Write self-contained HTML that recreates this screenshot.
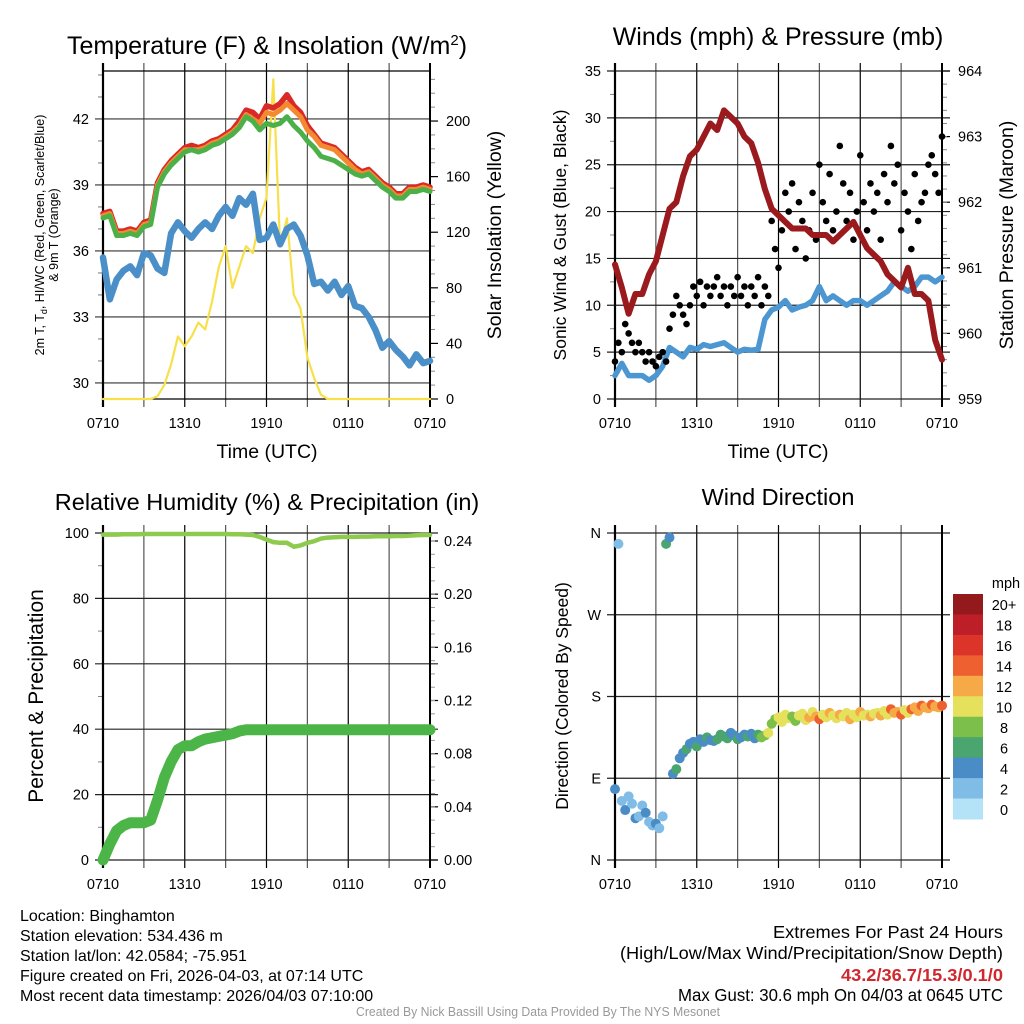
<!DOCTYPE html>
<html><head><meta charset="utf-8"><style>
html,body{margin:0;padding:0;background:#fff;}
svg{display:block;font-family:"Liberation Sans",sans-serif;}
</style></head><body>
<svg id="fig" width="1024" height="1024" viewBox="0 0 1024 1024" xmlns="http://www.w3.org/2000/svg">
<g id="layer"></g>
<g font-size="16" fill="#000">
<text x="20" y="921">Location: Binghamton</text>
<text x="20" y="941">Station elevation: 534.436 m</text>
<text x="20" y="961">Station lat/lon: 42.0584; -75.951</text>
<text x="20" y="981">Figure created on Fri, 2026-04-03, at 07:14 UTC</text>
<text x="20" y="1001">Most recent data timestamp: 2026/04/03 07:10:00</text>
</g>
<g font-size="17.5">
<text x="773" y="938" textLength="230" lengthAdjust="spacingAndGlyphs">Extremes For Past 24 Hours</text>
<text x="620" y="959" textLength="383" lengthAdjust="spacingAndGlyphs">(High/Low/Max Wind/Precipitation/Snow Depth)</text>
<text x="841" y="981" fill="#d0282e" font-weight="bold" textLength="162" lengthAdjust="spacingAndGlyphs">43.2/36.7/15.3/0.1/0</text>
<text x="678" y="1001" textLength="325" lengthAdjust="spacingAndGlyphs">Max Gust: 30.6 mph On 04/03 at 0645 UTC</text>
</g>
<text x="356" y="1016" font-size="13" fill="#999" textLength="364" lengthAdjust="spacingAndGlyphs">Created By Nick Bassill Using Data Provided By The NYS Mesonet</text>
</svg>
<script>
// ---- data (half-hourly, 0710 -> 0710) ----
const timeLabels = ["0710","1310","1910","0110","0710"];
const tempRed = [37.7,37.8,36.9,36.9,37.0,36.9,37.3,37.4,39.1,39.7,40.1,40.4,40.7,40.8,40.7,40.8,41.0,41.1,41.3,41.5,41.9,42.4,42.3,42.0,42.6,42.5,42.7,43.1,42.6,42.3,41.7,41.3,40.9,40.8,40.7,40.4,40.1,39.8,39.6,39.7,39.4,39.1,38.9,38.6,38.6,38.9,38.9,39.0,38.9];
const tempOrange = [37.6,37.7,36.8,36.8,36.9,36.8,37.2,37.3,39.0,39.6,40.0,40.3,40.6,40.6,40.6,40.7,40.9,41.0,41.2,41.4,41.7,42.2,42.0,41.8,42.3,42.2,42.4,42.7,42.4,42.1,41.5,41.2,40.8,40.7,40.6,40.3,40.0,39.7,39.5,39.6,39.3,39.0,38.8,38.5,38.5,38.8,38.8,38.9,38.8];
const tempGreen = [37.5,37.6,36.7,36.7,36.8,36.7,37.1,37.2,38.9,39.5,39.9,40.2,40.5,40.6,40.5,40.6,40.8,40.9,41.1,41.3,41.6,42.1,41.9,41.5,41.8,41.7,41.8,42.1,41.7,41.4,41.0,40.7,40.3,40.2,40.1,39.9,39.7,39.5,39.4,39.5,39.2,38.9,38.7,38.4,38.4,38.7,38.7,38.8,38.7];
const dewBlue = [35.7,33.8,34.7,35.1,35.3,34.9,35.9,35.8,35.2,35.0,36.8,37.3,36.9,36.6,37.0,37.3,37.0,37.6,38.0,37.6,38.4,38.1,38.6,36.5,36.6,37.2,36.3,37.0,37.2,36.7,35.8,34.5,34.6,34.2,34.6,34.0,34.4,33.5,33.4,33.0,32.4,31.6,31.9,31.5,31.2,30.8,31.3,30.9,31.0];
const solar = [0,0,0,0,0,0,0,0,2,10,25,45,38,45,55,50,70,95,110,80,95,110,105,130,145,230,110,130,75,65,30,15,3,0,0,0,0,0,0,0,0,0,0,0,0,0,0,0,0];
const pressure = [961.05,960.7,960.3,960.6,960.6,960.9,961.1,961.5,961.9,962.0,962.4,962.7,962.8,963.0,963.2,963.1,963.4,963.3,963.2,963.0,962.9,962.6,962.2,961.9,961.8,961.7,961.6,961.6,961.6,961.5,961.5,961.5,961.4,961.5,961.6,961.7,961.5,961.3,961.2,961.1,960.9,960.8,960.7,961.0,960.6,960.6,960.5,959.9,959.6];
const windSpeed = [2.5,3.8,2.5,2.5,2.5,2.0,2.5,3.5,5.5,5.0,4.5,5.5,5.3,5.8,5.6,5.8,6.0,5.5,5.0,5.3,5.2,5.3,8.5,9.5,9.8,10.5,9.5,9.8,10.0,10.5,12.0,10.5,11.0,10.5,10.0,10.5,10.5,10.0,10.5,11.0,11.5,12.5,12.0,11.5,12.0,13.0,13.0,12.5,13.0];
// gusts, quarter-hourly
const gusts = [4,6,5,8,7,6,5,6,5,4,5,4,3.5,4.5,5,4,7.5,9,11,10,9,8,10,12,11,12.5,10,12,11,12,13,11,12,10,12,11,13,11,12,10,12,11,13,10,12,11,19,16,14,18,22,20,23,16,21,19,15,18,22,17,25,21,19,24,18,20,27,23,19,22,17,20,26,21,18,23,20,22,17,24,21,27,23,25,18,22,20,16,24,19,21,22,25,26,24,22,28];
// wind direction (degrees), quarter-hourly
const windDir = [78,348,65,55,70,62,46,48,60,52,42,38,40,35,48,348,355,95,100,112,118,122,128,130,125,133,130,135,132,131,133,138,136,134,140,137,133,135,138,136,139,134,138,135,137,140,150,155,157,152,160,156,158,153,159,161,154,157,163,158,155,160,157,162,159,156,160,158,162,155,160,157,163,159,160,158,161,162,159,164,160,166,162,163,160,165,162,166,168,164,170,168,167,171,169,168,170];
const rhVals = [99.5,99.5,99.5,99.6,99.6,99.6,99.7,99.7,99.7,99.7,99.7,99.7,99.7,99.7,99.7,99.7,99.7,99.7,99.7,99.6,99.6,99.5,99.4,98.8,98.0,97.2,97.0,97.0,95.8,96.2,97.0,97.5,98.3,98.6,98.7,98.8,98.8,98.8,98.9,98.9,99.0,99.0,99.0,99.1,99.1,99.2,99.3,99.4,99.4];
const precip = [0,0.012,0.022,0.026,0.028,0.028,0.028,0.030,0.045,0.062,0.074,0.083,0.086,0.086,0.089,0.091,0.092,0.093,0.094,0.095,0.097,0.098,0.098,0.098,0.098,0.098,0.098,0.098,0.098,0.098,0.098,0.098,0.098,0.098,0.098,0.098,0.098,0.098,0.098,0.098,0.098,0.098,0.098,0.098,0.098,0.098,0.098,0.098,0.098];
const cbLabels = ["0","2","4","6","8","10","12","14","16","18","20+"];
const cbColors = ["#b4e2f7","#80bde6","#4a8dc6","#4aa56f","#7cc04b","#e6e15c","#f6a947","#ef6030","#dc3428","#bd1e27","#94191c"];

const NS="http://www.w3.org/2000/svg";
const layer=document.getElementById('layer');
function el(tag,attrs,parent){const e=document.createElementNS(NS,tag);for(const k in attrs)e.setAttribute(k,attrs[k]);(parent||layer).appendChild(e);return e;}
function txt(s,attrs,parent){const e=el('text',attrs,parent);e.textContent=s;return e;}

function makePanel(name,L,R,T,B){
  const g=el('g',{});
  
  
  const xs=h=>L+(R-L)*h/24;
  for(let i=0;i<=8;i++){
    const x=xs(i*3);
    const ln=el('line',{x1:x,x2:x,y1:T-8,y2:B+8,stroke:(i%2==0?'#000':'#555'),'stroke-width':1.2},g);
    
    
  }
  for(let i=0;i<timeLabels.length;i++){
    const t=txt(timeLabels[i],{x:xs(i*6),y:B+29,'font-size':14.5,'text-anchor':'middle'},g);
    
    
  }
  return {g,xs};
}
function polyline(g,name,arr,xs,ys,color,w){
  const pts=arr.map((v,i)=>xs(i*24/(arr.length-1))+','+ys(v)).join(' ');
  const p=el('polyline',{points:pts,fill:'none',stroke:color,'stroke-width':w,'stroke-linejoin':'round','stroke-linecap':'round'},g);
  
  
  return p;
}
function hgrid(g,L,R,y,label,side){
  el('line',{x1:L-8,x2:R+8,y1:y,y2:y,stroke:'#222','stroke-width':1.2},g);
  if(label!==null){
    const t=txt(label,{x:side=='left'?L-14:R+14,y:y+5,'font-size':14.5,'text-anchor':side=='left'?'end':'start'},g);
    
    
  }
}

// ===== Panel 1 =====
(function(){
  const L=103,R=430,T=71,B=399;
  const {g,xs}=makePanel('temperature-panel',L,R,T,B);
  const yT=v=>B-(v-29.27)/(44.18-29.27)*(B-T);
  const yS=v=>B-v/236*(B-T);
  el('line',{x1:L,x2:R,y1:T,y2:T,stroke:'#000','stroke-width':1.2},g);
  el('line',{x1:L,x2:R,y1:B,y2:B,stroke:'#000','stroke-width':1.2},g);
  [30,33,36,39,42].forEach(v=>{el('line',{x1:L-8,x2:R,y1:yT(v),y2:yT(v),stroke:'#333','stroke-width':1.2},g);const t=txt(String(v),{x:L-14,y:yT(v)+5,'font-size':14.5,'text-anchor':'end'},g);});
  for(let v=30;v<=44;v++) if(v%3) el('line',{x1:L-5,x2:L,y1:yT(v),y2:yT(v),stroke:'#777'},g);
  [0,40,80,120,160,200].forEach(v=>{el('line',{x1:R,x2:R+8,y1:yS(v),y2:yS(v),stroke:'#000','stroke-width':1.2},g);const t=txt(String(v),{x:R+16,y:yS(v)+5,'font-size':14.5},g);});
  for(let v=10;v<=230;v+=10) if(v%40) el('line',{x1:R,x2:R+5,y1:yS(v),y2:yS(v),stroke:'#888'},g);
  el('line',{x1:L,x2:L,y1:T-8,y2:B+8,stroke:'#000','stroke-width':2.2},g);
  el('line',{x1:R,x2:R,y1:T-8,y2:B+8,stroke:'#000','stroke-width':2},g);
  polyline(g,'solar-insolation-line',solar,xs,yS,'#f7e04a',2.2);
  polyline(g,'dewpoint-line',dewBlue,xs,yT,'#4a8fc8',6.5);
  polyline(g,'temp-2m-line',tempRed,xs,yT,'#d92a27',5.5);
  polyline(g,'temp-9m-line',tempOrange,xs,yT,'#f48a30',5);
  polyline(g,'heat-index-line',tempGreen,xs,yT,'#4cb048',5);
  const t1=txt('',{x:267,y:54,'font-size':25,'text-anchor':'middle'},g);t1.innerHTML='Temperature (F) &amp; Insolation (W/m<tspan font-size="15" dy="-9">2</tspan><tspan dy="9">)</tspan>';
  
  const xt=txt('Time (UTC)',{x:267,y:458,'font-size':19.5,'text-anchor':'middle'},g);
  const yt=el('text',{transform:'translate(44,235) rotate(-90)','font-size':12.5,'text-anchor':'middle'},g);
  yt.innerHTML='<tspan x="0" dy="0">2m T, T<tspan font-size="9" dy="3">d</tspan><tspan dy="-3">, HI/WC (Red, Green, Scarlet/Blue)</tspan></tspan><tspan x="0" dy="14">&amp; 9m T (Orange)</tspan>';
  
  const yr=txt('Solar Insolation (Yellow)',{transform:'translate(501,235) rotate(-90)','font-size':19.5,'text-anchor':'middle'},g);
  
})();

// ===== Panel 2 =====
(function(){
  const L=615,R=942,T=71,B=399;
  const {g,xs}=makePanel('wind-pressure-panel',L,R,T,B);
  const yW=v=>B-v/35*(B-T);
  const yP=v=>B-(v-959)/5*(B-T);
  [0,5,10,15,20,25,30,35].forEach(v=>hgrid(g,L,R,yW(v),String(v),'left'));
  [959,960,961,962,963,964].forEach(v=>{el('line',{x1:R,x2:R+8,y1:yP(v),y2:yP(v),stroke:'#000','stroke-width':1.2},g);const t=txt(String(v),{x:R+16,y:yP(v)+5,'font-size':14.5},g);});
  for(let v=959.2;v<964;v+=0.2) el('line',{x1:R,x2:R+5,y1:yP(v),y2:yP(v),stroke:'#888'},g);
  for(let v=2.5;v<35;v+=5) el('line',{x1:L-5,x2:L,y1:yW(v),y2:yW(v),stroke:'#888'},g);
  el('line',{x1:L,x2:L,y1:T-8,y2:B+8,stroke:'#000','stroke-width':2.2},g);
  el('line',{x1:R,x2:R,y1:T-8,y2:B+8,stroke:'#000','stroke-width':2},g);
  polyline(g,'sonic-wind-line',windSpeed,xs,yW,'#4c97d2',5.5);
  gusts.forEach((v,i)=>{const c=el('circle',{cx:xs(i*24/(gusts.length-1)),cy:yW(v),r:3.3,fill:'#000'},g);});
  polyline(g,'pressure-line',pressure,xs,yP,'#9a1a1d',6);
  const t1=txt('Winds (mph) & Pressure (mb)',{x:778,y:45,'font-size':25,'text-anchor':'middle'},g);
  const xt=txt('Time (UTC)',{x:778,y:458,'font-size':19.5,'text-anchor':'middle'},g);
  const yl=txt('Sonic Wind & Gust (Blue, Black)',{transform:'translate(566,235) rotate(-90)','font-size':17.5,'text-anchor':'middle'},g);
  const yr=txt('Station Pressure (Maroon)',{transform:'translate(1013,235) rotate(-90)','font-size':19.5,'text-anchor':'middle'},g);
})();

// ===== Panel 3 =====
(function(){
  const L=103,R=430,T=533,B=860;
  const {g,xs}=makePanel('humidity-precip-panel',L,R,T,B);
  const yR=v=>B-v/100*(B-T);
  const yPr=v=>B-v/0.24*(B-541);
  [0,20,40,60,80,100].forEach(v=>hgrid(g,L,R,yR(v),String(v),'left'));
  for(let v=10;v<100;v+=20) el('line',{x1:L-5,x2:L,y1:yR(v),y2:yR(v),stroke:'#888'},g);
  ['0.00','0.04','0.08','0.12','0.16','0.20','0.24'].forEach(s=>{const v=parseFloat(s);el('line',{x1:R,x2:R+8,y1:yPr(v),y2:yPr(v),stroke:'#000','stroke-width':1.2},g);const t=txt(s,{x:R+14,y:yPr(v)+5,'font-size':14.5},g);});
  for(let v=0.01;v<0.245;v+=0.01) el('line',{x1:R,x2:R+5,y1:yPr(v),y2:yPr(v),stroke:'#999'},g);
  el('line',{x1:L,x2:L,y1:T-8,y2:B+8,stroke:'#000','stroke-width':2.2},g);
  el('line',{x1:R,x2:R,y1:T-8,y2:B+8,stroke:'#000','stroke-width':2},g);
  polyline(g,'relative-humidity-line',rhVals,xs,yR,'#8dca4e',4.5);
  polyline(g,'precipitation-line',precip,xs,yPr,'#4cb547',11);
  const t1=txt('Relative Humidity (%) & Precipitation (in)',{x:267,y:510,'font-size':23.5,'text-anchor':'middle'},g);
  const yl=txt('Percent & Precipitation',{transform:'translate(43,696) rotate(-90)','font-size':21,'text-anchor':'middle'},g);
})();

// ===== Panel 4 =====
(function(){
  const L=615,R=942,T=533,B=860;
  const {g,xs}=makePanel('wind-direction-panel',L,R,T,B);
  const yD=v=>B-v/360*(B-T);
  [['N',0],['E',90],['S',180],['W',270],['N',360]].forEach(([s,v])=>hgrid(g,L,R,yD(v),s,'left'));
  el('line',{x1:L,x2:L,y1:T-8,y2:B+8,stroke:'#000','stroke-width':2.2},g);
  el('line',{x1:R,x2:R,y1:T-8,y2:B+8,stroke:'#000','stroke-width':2},g);
  windDir.forEach((d,i)=>{
    const h=i*24/(windDir.length-1);
    const s=windSpeed[Math.round(h*2)];
    const ci=Math.min(10,Math.floor(s/2)+((i%3==0)?1:0));
    const c=el('circle',{cx:xs(h),cy:yD(d),r:5,fill:cbColors[ci]},g);
    
    
  });
  const t1=txt('Wind Direction',{x:778,y:505,'font-size':23.5,'text-anchor':'middle'},g);
  const yl=txt('Direction (Colored By Speed)',{transform:'translate(568,696) rotate(-90)','font-size':17.5,'text-anchor':'middle'},g);
  const cb=el('g',{},g);
  const top=594,bh=(819-594)/cbColors.length;
  for(let k=0;k<cbColors.length;k++){
    const idx=cbColors.length-1-k;
    el('rect',{x:953,y:top+k*bh,width:30,height:bh+0.5,fill:cbColors[idx]},cb);
    const t=txt(cbLabels[idx],{x:1004,y:top+k*bh+bh/2+6,'font-size':14.5,'text-anchor':'middle'},cb);
    
  }
  const u=txt('mph',{x:1006,y:588,'font-size':14.5,'text-anchor':'middle'},cb);
})();
</script>
</body></html>
